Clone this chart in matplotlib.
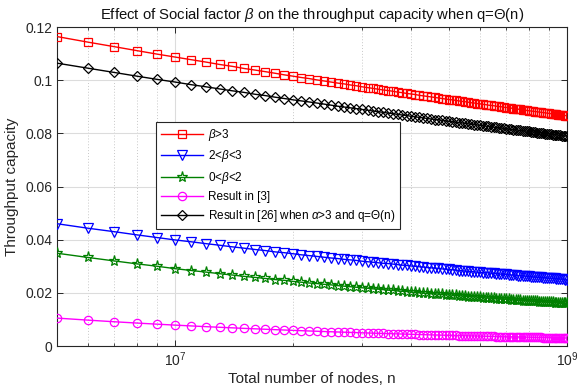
import matplotlib
matplotlib.use("Agg")
import matplotlib.pyplot as plt
from matplotlib.ticker import FixedLocator, NullFormatter

plt.rcParams['font.family'] = ['Liberation Sans', 'DejaVu Sans']
plt.rcParams['mathtext.fontset'] = 'custom'
plt.rcParams['mathtext.rm'] = 'Liberation Sans'
plt.rcParams['mathtext.it'] = 'Liberation Sans:italic'

# number of nodes, 5e6 .. 1e8 in steps of 1e6
n_millions = list(range(5, 101))
n_nodes = [m * 1e6 for m in n_millions]

beta_gt3 = [0.1164, 0.1143, 0.1126, 0.1111, 0.1098, 0.1087, 0.1077, 0.1068, 0.1059, 0.1052,
            0.1044, 0.1038, 0.1032, 0.1026, 0.1020, 0.1015, 0.1010, 0.1006, 0.1001, 0.0997,
            0.0993, 0.0989, 0.0986, 0.0982, 0.0979, 0.0975, 0.0972, 0.0969, 0.0966, 0.0963,
            0.0961, 0.0958, 0.0955, 0.0953, 0.0950, 0.0948, 0.0946, 0.0943, 0.0941, 0.0939,
            0.0937, 0.0935, 0.0933, 0.0931, 0.0929, 0.0927, 0.0926, 0.0924, 0.0922, 0.0920,
            0.0919, 0.0917, 0.0915, 0.0914, 0.0912, 0.0911, 0.0909, 0.0908, 0.0906, 0.0905,
            0.0904, 0.0902, 0.0901, 0.0900, 0.0898, 0.0897, 0.0896, 0.0895, 0.0893, 0.0892,
            0.0891, 0.0890, 0.0889, 0.0888, 0.0886, 0.0885, 0.0884, 0.0883, 0.0882, 0.0881,
            0.0880, 0.0879, 0.0878, 0.0877, 0.0876, 0.0875, 0.0874, 0.0873, 0.0872, 0.0871,
            0.0870, 0.0870, 0.0869, 0.0868, 0.0867, 0.0866]

beta_2_3 = [0.0460, 0.0443, 0.0430, 0.0418, 0.0408, 0.0399, 0.0392, 0.0385, 0.0379, 0.0373,
            0.0368, 0.0363, 0.0359, 0.0354, 0.0351, 0.0347, 0.0343, 0.0340, 0.0337, 0.0334,
            0.0331, 0.0329, 0.0326, 0.0324, 0.0322, 0.0319, 0.0317, 0.0315, 0.0313, 0.0311,
            0.0310, 0.0308, 0.0306, 0.0304, 0.0303, 0.0301, 0.0300, 0.0298, 0.0297, 0.0295,
            0.0294, 0.0293, 0.0292, 0.0290, 0.0289, 0.0288, 0.0287, 0.0286, 0.0284, 0.0283,
            0.0282, 0.0281, 0.0280, 0.0279, 0.0278, 0.0277, 0.0276, 0.0276, 0.0275, 0.0274,
            0.0273, 0.0272, 0.0271, 0.0270, 0.0270, 0.0269, 0.0268, 0.0267, 0.0267, 0.0266,
            0.0265, 0.0264, 0.0264, 0.0263, 0.0262, 0.0262, 0.0261, 0.0260, 0.0260, 0.0259,
            0.0258, 0.0258, 0.0257, 0.0257, 0.0256, 0.0255, 0.0255, 0.0254, 0.0254, 0.0253,
            0.0253, 0.0252, 0.0252, 0.0251, 0.0250, 0.0250]

beta_0_2 = [0.0349, 0.0333, 0.0320, 0.0309, 0.0300, 0.0291, 0.0284, 0.0278, 0.0272, 0.0267,
            0.0262, 0.0258, 0.0254, 0.0250, 0.0247, 0.0243, 0.0240, 0.0237, 0.0235, 0.0232,
            0.0230, 0.0227, 0.0225, 0.0223, 0.0221, 0.0219, 0.0217, 0.0215, 0.0214, 0.0212,
            0.0210, 0.0209, 0.0207, 0.0206, 0.0205, 0.0203, 0.0202, 0.0201, 0.0199, 0.0198,
            0.0197, 0.0196, 0.0195, 0.0194, 0.0193, 0.0192, 0.0191, 0.0190, 0.0189, 0.0188,
            0.0187, 0.0186, 0.0185, 0.0185, 0.0184, 0.0183, 0.0182, 0.0181, 0.0181, 0.0180,
            0.0179, 0.0178, 0.0178, 0.0177, 0.0176, 0.0176, 0.0175, 0.0174, 0.0174, 0.0173,
            0.0173, 0.0172, 0.0171, 0.0171, 0.0170, 0.0170, 0.0169, 0.0169, 0.0168, 0.0168,
            0.0167, 0.0167, 0.0166, 0.0166, 0.0165, 0.0165, 0.0164, 0.0164, 0.0163, 0.0163,
            0.0162, 0.0162, 0.0161, 0.0161, 0.0161, 0.0160]

result_3 = [0.01050, 0.00973, 0.00912, 0.00863, 0.00821, 0.00786, 0.00755, 0.00728, 0.00704, 0.00683,
            0.00663, 0.00646, 0.00630, 0.00615, 0.00601, 0.00588, 0.00576, 0.00565, 0.00555, 0.00545,
            0.00536, 0.00527, 0.00519, 0.00511, 0.00504, 0.00496, 0.00490, 0.00483, 0.00477, 0.00471,
            0.00466, 0.00460, 0.00455, 0.00450, 0.00445, 0.00440, 0.00436, 0.00431, 0.00427, 0.00423,
            0.00419, 0.00415, 0.00412, 0.00408, 0.00404, 0.00401, 0.00398, 0.00395, 0.00391, 0.00388,
            0.00385, 0.00382, 0.00380, 0.00377, 0.00374, 0.00372, 0.00369, 0.00367, 0.00364, 0.00362,
            0.00359, 0.00357, 0.00355, 0.00353, 0.00351, 0.00348, 0.00346, 0.00344, 0.00342, 0.00340,
            0.00339, 0.00337, 0.00335, 0.00333, 0.00331, 0.00330, 0.00328, 0.00326, 0.00325, 0.00323,
            0.00321, 0.00320, 0.00318, 0.00317, 0.00315, 0.00314, 0.00312, 0.00311, 0.00309, 0.00308,
            0.00307, 0.00305, 0.00304, 0.00303, 0.00301, 0.00300]

result_26 = [0.1064, 0.1045, 0.1029, 0.1015, 0.1003, 0.0993, 0.0983, 0.0975, 0.0967, 0.0960,
             0.0954, 0.0947, 0.0942, 0.0936, 0.0931, 0.0926, 0.0922, 0.0918, 0.0914, 0.0910,
             0.0906, 0.0902, 0.0899, 0.0896, 0.0893, 0.0890, 0.0887, 0.0884, 0.0881, 0.0879,
             0.0876, 0.0874, 0.0871, 0.0869, 0.0867, 0.0864, 0.0862, 0.0860, 0.0858, 0.0856,
             0.0854, 0.0852, 0.0851, 0.0849, 0.0847, 0.0845, 0.0844, 0.0842, 0.0840, 0.0839,
             0.0837, 0.0836, 0.0834, 0.0833, 0.0831, 0.0830, 0.0829, 0.0827, 0.0826, 0.0825,
             0.0823, 0.0822, 0.0821, 0.0820, 0.0819, 0.0817, 0.0816, 0.0815, 0.0814, 0.0813,
             0.0812, 0.0811, 0.0810, 0.0809, 0.0808, 0.0807, 0.0806, 0.0805, 0.0804, 0.0803,
             0.0802, 0.0801, 0.0800, 0.0799, 0.0798, 0.0797, 0.0796, 0.0795, 0.0795, 0.0794,
             0.0793, 0.0792, 0.0791, 0.0790, 0.0790, 0.0789]

labels = [r'$\beta$>3', r'2<$\beta$<3', r'0<$\beta$<2', 'Result in [3]',
          r'Result in [26] when $\alpha$>3 and q=Θ(n)']
y_ticks = [0, 0.02, 0.04, 0.06, 0.08, 0.10, 0.12]
y_ticklabels = ['0', '0.02', '0.04', '0.06', '0.08', '0.1', '0.12']
x_ticks = [1e7, 1e8]
x_ticklabels = [r'$\mathregular{10^{7}}$', r'$\mathregular{10^{9}}$']

W, H = 577, 388
fig = plt.figure(figsize=(W / 100, H / 100), dpi=100)
L, R, T, B = 57, 567, 27, 346
ax = fig.add_axes([L / W, 1 - B / H, (R - L) / W, (B - T) / H])

styles = [
    dict(color='#ff0000', marker='s', ms=5.5),
    dict(color='#0000ff', marker='v', ms=6.5),
    dict(color='#008000', marker='*', ms=8.0),
    dict(color='#ff00ff', marker='o', ms=6.0),
    dict(color='#000000', marker='D', ms=5.5),
]
series = [beta_gt3, beta_2_3, beta_0_2, result_3, result_26]
for ys, st, lab in zip(series, styles, labels):
    ax.plot(n_nodes, ys, color=st['color'], marker=st['marker'], ms=st['ms'],
            mfc='none', mec=st['color'], mew=0.9, lw=1.0, label=lab, zorder=3)

ax.set_xscale('log')
ax.set_xlim(5e6, 1e8)
ax.set_ylim(0, 0.12)
ax.set_xticks(x_ticks)
ax.set_xticklabels(x_ticklabels)
minor = [k * 1e6 for k in range(5, 10)] + [k * 1e7 for k in range(2, 10)]
ax.xaxis.set_minor_locator(FixedLocator(minor))
ax.xaxis.set_minor_formatter(NullFormatter())
ax.set_yticks(y_ticks)
ax.set_yticklabels(y_ticklabels)

ax.grid(True, which='major', color='#dcdcdc', lw=0.8, ls='-', zorder=0)
ax.grid(True, which='minor', axis='x', color='#c8c8c8', lw=0.7, ls=(0, (1, 2)), zorder=0)
ax.set_axisbelow(True)

ax.tick_params(which='both', direction='in', top=True, right=True, colors='#262626',
               labelsize=10, labelcolor='#262626')
ax.tick_params(which='major', length=4, width=0.7)
ax.tick_params(which='minor', length=2.5, width=0.6)
ax.tick_params(axis='x', pad=3)
for s in ax.spines.values():
    s.set_color('#262626')
    s.set_linewidth(0.8)

ax.set_title(r'Effect of Social factor $\beta$ on the throughput capacity when q=Θ(n)',
             fontsize=10.7, color='#111111', pad=6)
ax.set_xlabel('Total number of nodes, n', fontsize=11, color='#262626', labelpad=2)
ax.set_ylabel('Throughput capacity', fontsize=11, color='#262626', labelpad=4)

leg = ax.legend(loc='upper left', bbox_to_anchor=(0.194, 0.702), borderaxespad=0,
                fontsize=8.5, frameon=True, fancybox=False, framealpha=1,
                edgecolor='#262626', handlelength=3.6, handletextpad=0.35,
                labelspacing=0.45, borderpad=0.42)
leg.get_frame().set_linewidth(0.8)

fig.savefig('out.png', dpi=100)
